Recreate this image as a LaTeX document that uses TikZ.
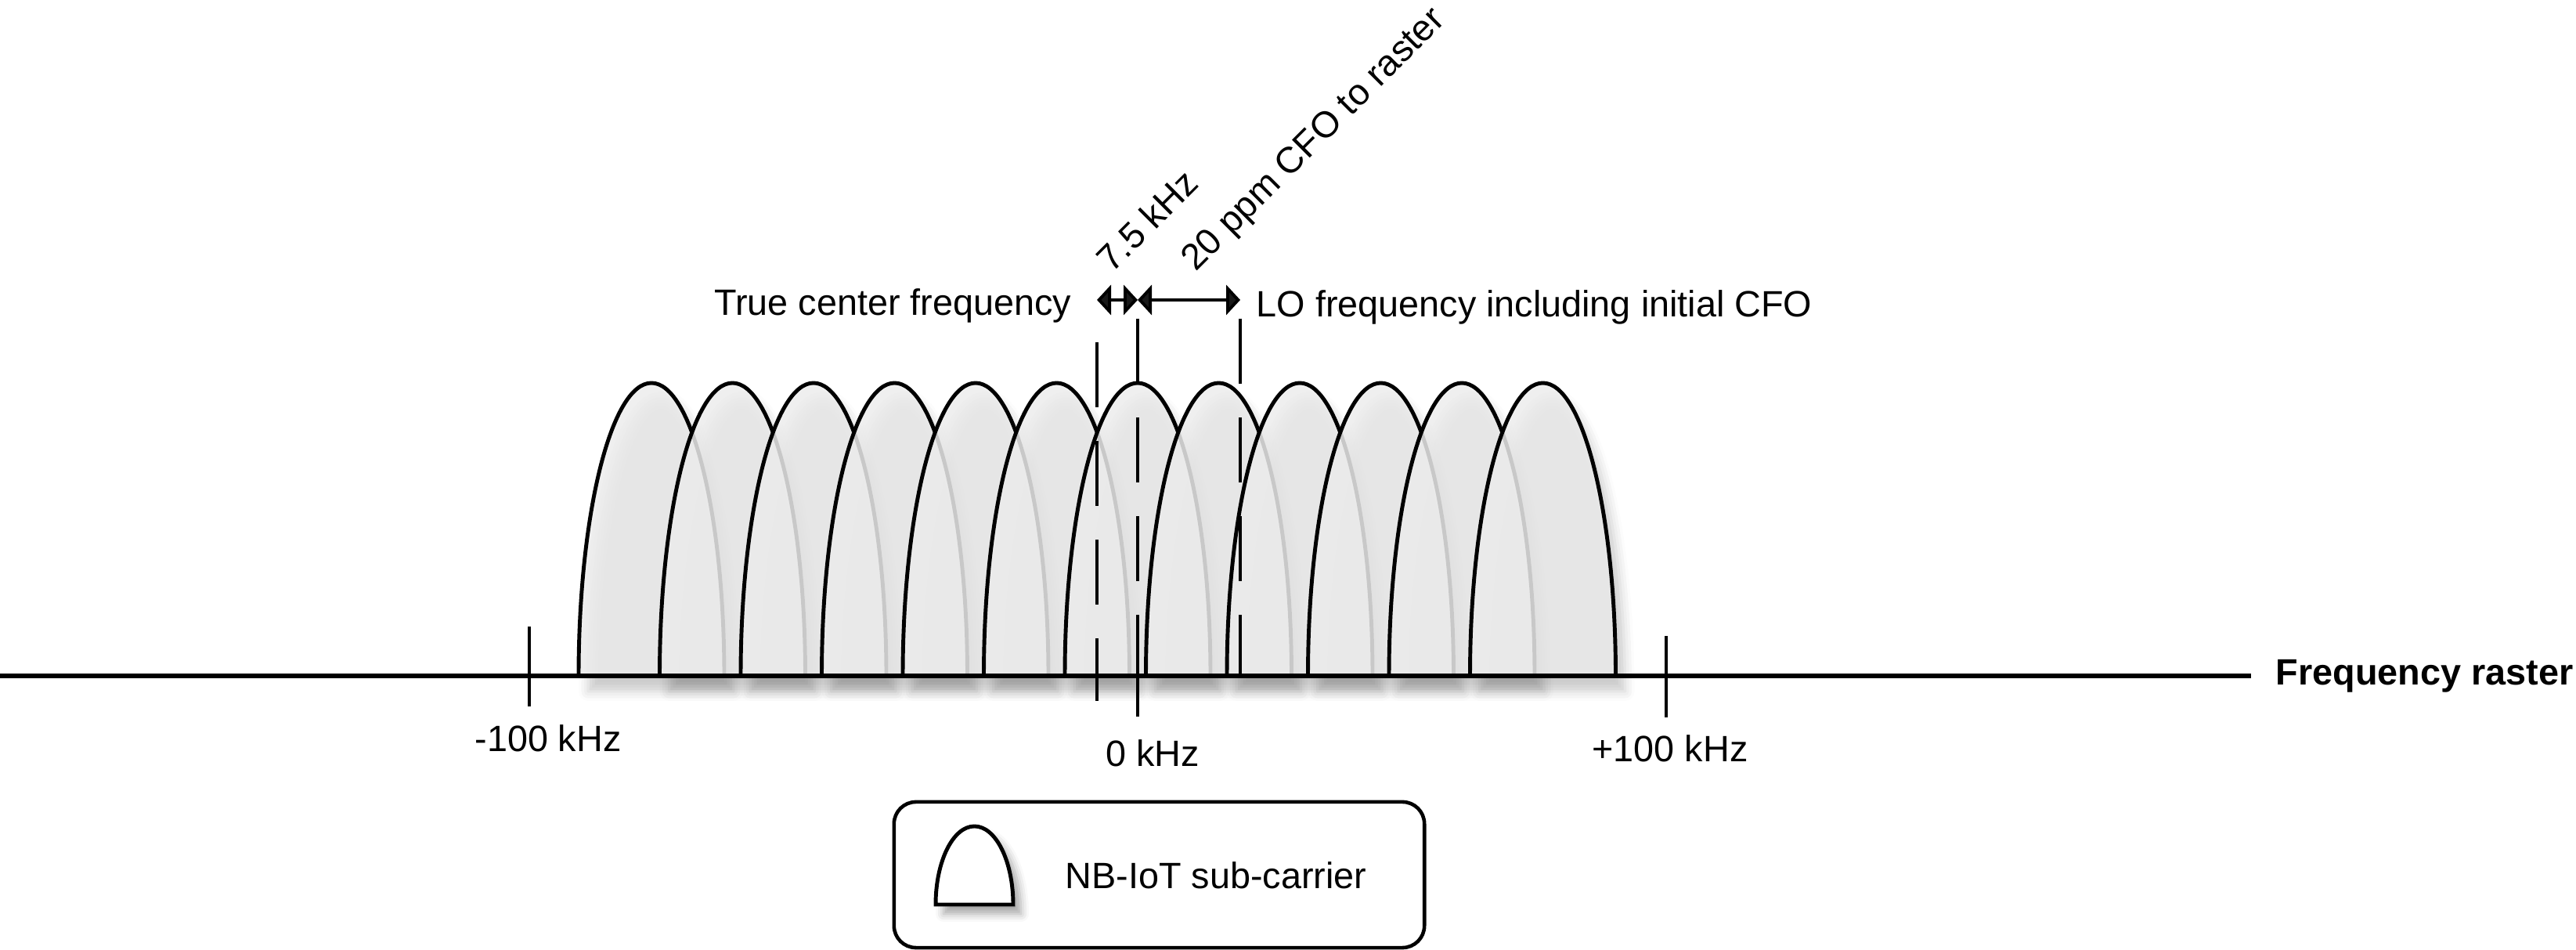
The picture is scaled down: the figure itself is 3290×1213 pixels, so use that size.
\documentclass[tikz,border=0pt]{standalone}
\usepackage{fontspec}
\setmainfont{Liberation Sans}
\usetikzlibrary{arrows.meta,shadows.blur}

\begin{document}
\begin{tikzpicture}[x=0.01cm,y=0.01cm,font=\fontsize{13.3}{16}\selectfont,
  carrier/.style={draw=black,line width=1.4pt,fill=gray!15,fill opacity=0.85},
  carriershadow/.style={blur shadow={shadow xshift=0.12cm,shadow yshift=-0.2cm,shadow blur radius=0.12cm,shadow opacity=20}},
  axisline/.style={line width=1.7pt},
  rastertick/.style={line width=1pt},
  freqline/.style={line width=1.1pt,dash pattern=on 0.83cm off 0.43cm},
  spanarrow/.style={line width=1.1pt,{Triangle[length=0.18cm,width=0.38cm]}-{Triangle[length=0.18cm,width=0.38cm]}}]
  \useasboundingbox (0,-350) rectangle (3290,863);
  \foreach \k in {-6,...,5}
    \path[carriershadow] ({1453+103.5*\k-93},0) arc[start angle=180,end angle=0,x radius=93,y radius=374] -- cycle;
  \foreach \k in {-6,...,5}
    \draw[carrier] ({1453+103.5*\k-93},0) arc[start angle=180,end angle=0,x radius=93,y radius=374] -- cycle;
  \node[anchor=west,font=\fontsize{13.3}{16}\selectfont\bfseries,inner xsep=0.31cm,inner ysep=0] (raster) at (2875,0) {Frequency raster};
  \draw[axisline] (0,0) -- (raster.west);
  \draw[rastertick] (676,63) -- (676,-39);
  \draw[rastertick] (2128,51) -- (2128,-53);
  \draw[rastertick] (1453,51) -- (1453,-52);
  \node[anchor=base,inner sep=0] (lowedge) at (700,-97) {-100 kHz};
  \node[anchor=base,inner sep=0] (zero) at (1472,-116) {0 kHz};
  \node[anchor=base,inner sep=0] (highedge) at (2133,-110) {+100 kHz};
  \draw[freqline] (1401,426) -- (1401,-32);
  \draw[freqline] (1453,456) -- (1453,0);
  \draw[freqline] (1584,456) -- (1584,0);
  \coordinate (tc) at (1401,480);
  \coordinate (zc) at (1453,480);
  \coordinate (lo) at (1584,480);
  \draw[spanarrow] (tc) -- (zc);
  \draw[spanarrow] (zc) -- (lo);
  \node[anchor=base east,inner sep=0] (truecf) at (1369,460) {True center frequency};
  \node[anchor=base west,inner sep=0] (locf) at (1604,458) {LO frequency including initial CFO};
  \node[anchor=base west,inner sep=0,rotate=45] (spacing) at (1420,513) {7.5 kHz};
  \node[anchor=base west,inner sep=0,rotate=45] (cfo) at (1527,515) {20 ppm CFO to raster};
  \node[draw,line width=1.3pt,rounded corners=0.28cm,minimum width=6.77cm,minimum height=1.86cm] (legend) at (1480.5,-254) {};
  \draw[line width=1.4pt,fill=white,blur shadow={shadow xshift=0.1cm,shadow yshift=-0.12cm,shadow blur radius=0.1cm,shadow opacity=35}]
    (1195,-292) arc[start angle=180,end angle=0,x radius=49.5,y radius=100] -- cycle;
  \node[anchor=base west,inner sep=0] (legendtext) at (1360,-272) {NB-IoT sub-carrier};
\end{tikzpicture}
\end{document}
